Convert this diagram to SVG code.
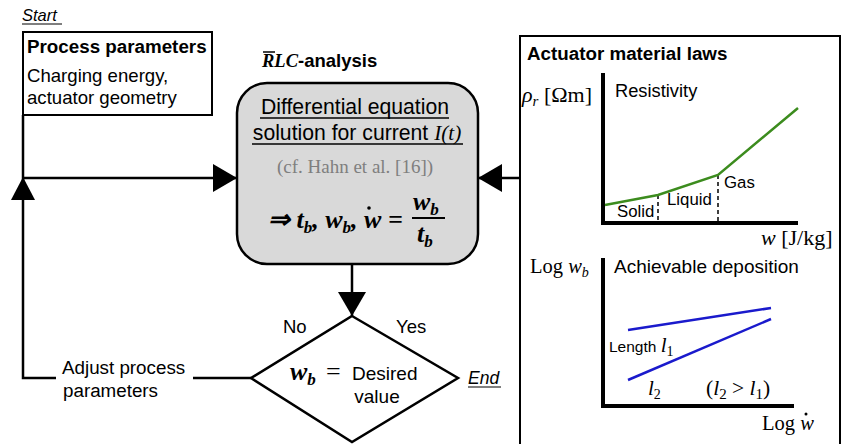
<svg xmlns="http://www.w3.org/2000/svg" width="842" height="444" viewBox="0 0 842 444">
<style>
.s{font-family:"Liberation Sans",Arial,sans-serif;fill:#000}
.m{font-family:"Liberation Serif","Times New Roman",serif;fill:#000}
.b{font-weight:bold}
.i{font-style:italic}
.ln{stroke:#000;stroke-width:2.5;fill:none}
.ax{stroke:#000;stroke-width:4;fill:none}
</style>
<defs>
<marker id="ah" markerUnits="userSpaceOnUse" markerWidth="24" markerHeight="28" refX="24" refY="14" orient="auto">
<path d="M0,0 L24,14 L0,28 Z" fill="#000"/>
</marker>
</defs>
<rect width="842" height="444" fill="#fff"/>

<g id="start">
<text class="s i" x="22" y="21" font-size="16.5">Start</text>
<line x1="22" y1="24" x2="62" y2="24" stroke="#000" stroke-width="1.2"/>
</g>

<g id="process-parameters">
<rect x="23" y="32" width="189" height="83" fill="#fff" stroke="#000" stroke-width="2"/>
<text class="s b" x="27" y="53" font-size="18.8">Process parameters</text>
<text class="s" x="27" y="82" font-size="18.6">Charging energy,</text>
<text class="s" x="27" y="104" font-size="18.6">actuator geometry</text>
</g>

<g id="rlc-analysis">
<text x="262" y="67" font-size="18.5"><tspan class="m b i">RLC</tspan><tspan class="s b">-analysis</tspan></text>
<line x1="263" y1="52" x2="275" y2="52" stroke="#000" stroke-width="1.5"/>
<rect x="237" y="83" width="241" height="181" rx="30" ry="30" fill="#d9d9d9" stroke="#000" stroke-width="2.5"/>
<text class="s" x="355" y="114" font-size="21.2" text-anchor="middle">Differential equation</text>
<line x1="260" y1="118" x2="449" y2="118" stroke="#000" stroke-width="1.5"/>
<text x="357" y="140" font-size="21.2" text-anchor="middle"><tspan class="s">solution for current </tspan><tspan class="m i">I(t)</tspan></text>
<line x1="252" y1="144" x2="463" y2="144" stroke="#000" stroke-width="1.5"/>
<text class="m" x="355" y="173" font-size="19" text-anchor="middle" style="fill:#7f7f7f">(cf. Hahn et al. [16])</text>
<text class="m b i" x="268" y="228" font-size="26">⇒ t<tspan font-size="17" dy="5">b</tspan><tspan dy="-5">, w</tspan><tspan font-size="17" dy="5">b</tspan><tspan dy="-5">, w =</tspan></text>
<circle cx="369" cy="208" r="1.8" fill="#000"/>
<text class="m b i" x="413" y="210" font-size="26">w<tspan font-size="17" dy="5">b</tspan></text>
<line x1="412" y1="218" x2="445" y2="218" stroke="#000" stroke-width="1.8"/>
<text class="m b i" x="417" y="242" font-size="26">t<tspan font-size="17" dy="5">b</tspan></text>
</g>

<g id="decision">
<polygon points="352,316 458,378 352,442 251,378" fill="#fff" stroke="#000" stroke-width="2.5"/>
<text x="290" y="380"><tspan class="m b i" font-size="26">w</tspan><tspan class="m b i" font-size="17" dy="5">b</tspan><tspan class="m" dy="-5" x="326" font-size="26">=</tspan><tspan class="s" x="352" font-size="19">Desired</tspan></text>
<text class="s" x="377" y="403" font-size="19" text-anchor="middle">value</text>
<text class="s" x="283" y="333" font-size="18.5">No</text>
<text class="s" x="396" y="333" font-size="18.5">Yes</text>
</g>

<g id="end">
<text class="s i" x="468" y="384" font-size="17.5">End</text>
<line x1="468" y1="387" x2="501" y2="387" stroke="#000" stroke-width="1.2"/>
</g>

<g id="adjust">
<text class="s" x="62" y="374" font-size="18.8">Adjust process</text>
<text class="s" x="63" y="397" font-size="18.8">parameters</text>
</g>

<g id="connectors">
<line class="ln" x1="23" y1="178" x2="237" y2="178" marker-end="url(#ah)"/>
<line class="ln" x1="521" y1="178" x2="478" y2="178" marker-end="url(#ah)"/>
<line class="ln" x1="352" y1="264" x2="352" y2="316" marker-end="url(#ah)"/>
<polyline class="ln" points="251,378 193,378"/>
<polyline class="ln" points="56,378 23,378 23,115"/>
<polygon points="23,177 11,200 35,200" fill="#000"/>
</g>

<g id="material-laws">
<rect x="520" y="36" width="320" height="420" fill="#fff" stroke="#000" stroke-width="2"/>
<text class="s b" x="527" y="60" font-size="18.8">Actuator material laws</text>
<polyline class="ax" points="603,73 603,223 798,223"/>
<line x1="658" y1="195" x2="658" y2="223" stroke="#000" stroke-width="1.5" stroke-dasharray="4,3"/>
<line x1="718" y1="175" x2="718" y2="223" stroke="#000" stroke-width="1.5" stroke-dasharray="4,3"/>
<polyline points="605,205 658,195 718,175 798,108" fill="none" stroke="#3c8c1e" stroke-width="2.5"/>
<text class="m" x="522" y="102" font-size="22"><tspan class="i">ρ</tspan><tspan class="i" font-size="15" dy="4">r</tspan><tspan dy="-4"> [Ωm]</tspan></text>
<text class="s" x="615" y="97" font-size="18.3">Resistivity</text>
<text class="s" x="617" y="217" font-size="16.8">Solid</text>
<text class="s" x="667" y="205" font-size="16.8">Liquid</text>
<text class="s" x="724" y="188" font-size="16.8">Gas</text>
<text class="m" x="761" y="245" font-size="22"><tspan class="i">w</tspan> [J/kg]</text>
<polyline class="ax" points="603,258 603,406 794,406"/>
<line x1="628" y1="330" x2="771" y2="308" stroke="#1a1acc" stroke-width="2.5"/>
<line x1="628" y1="380" x2="771" y2="319" stroke="#1a1acc" stroke-width="2.5"/>
<text class="m" x="530" y="273" font-size="20.5">Log <tspan class="i">w</tspan><tspan class="i" font-size="14" dy="4">b</tspan></text>
<text class="s" x="614" y="273" font-size="19">Achievable deposition</text>
<text x="609" y="352"><tspan class="s" font-size="15.5">Length </tspan><tspan class="m i" font-size="21">l</tspan><tspan class="m" font-size="14" dy="4">1</tspan></text>
<text class="m" x="648" y="395" font-size="21"><tspan class="i">l</tspan><tspan font-size="14" dy="4">2</tspan></text>
<text class="m" x="706" y="395" font-size="21.5">(<tspan class="i">l</tspan><tspan font-size="15" dy="4">2</tspan><tspan dy="-4"> &gt; </tspan><tspan class="i">l</tspan><tspan font-size="15" dy="4">1</tspan><tspan dy="-4">)</tspan></text>
<text class="m" x="762" y="430" font-size="20.5">Log <tspan class="i">w</tspan></text>
<circle cx="806" cy="414" r="1.5" fill="#000"/>
</g>
</svg>
